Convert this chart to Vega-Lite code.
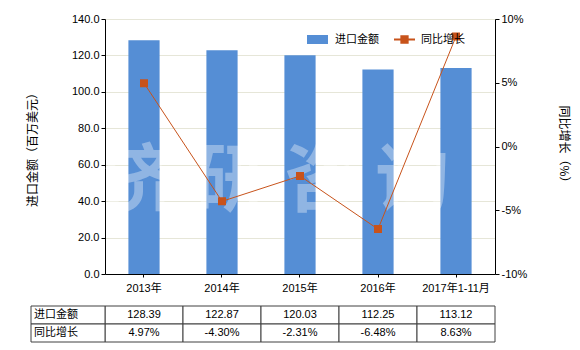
{
  "$schema": "https://vega.github.io/schema/vega-lite/v6.json",
  "padding": {"left": 26, "top": 13, "right": 5, "bottom": 5},
  "background": "white",
  "datasets": {
    "main": [
      {"年份": "2013年", "进口金额": 128.39, "同比增长": 0.0497},
      {"年份": "2014年", "进口金额": 122.87, "同比增长": -0.0430},
      {"年份": "2015年", "进口金额": 120.03, "同比增长": -0.0231},
      {"年份": "2016年", "进口金额": 112.25, "同比增长": -0.0648},
      {"年份": "2017年1-11月", "进口金额": 113.12, "同比增长": 0.0863}
    ],
    "rows": [{"指标": "进口金额"}, {"指标": "同比增长"}],
    "wm": [{"文字": "济 研 咨 询"}]
  },
  "spacing": 12,
  "vconcat": [
    {
      "width": 390,
      "height": 255,
      "data": {"name": "main"},
      "encoding": {
        "x": {
          "field": "年份", "type": "nominal", "sort": null,
          "scale": {"paddingInner": 0.6, "paddingOuter": 0.3},
          "axis": {"title": null, "labelAngle": 0, "tickSize": 3, "labelPadding": 5}
        }
      },
      "layer": [
        {
          "layer": [
            {
              "mark": {"type": "bar"},
              "encoding": {
                "y": {
                  "field": "进口金额", "type": "quantitative",
                  "scale": {"domain": [0, 140]},
                  "axis": {"values": [0, 20, 40, 60, 80, 100, 120, 140], "format": ".1f", "title": "进口金额（百万美元）", "grid": true, "gridColor": "#e6e6d8", "tickSize": 4, "labelPadding": 2, "titlePadding": 32}
                },
                "fill": {
                  "datum": "进口金额",
                  "scale": {"domain": ["进口金额"], "range": ["#558ed5"]},
                  "legend": {"orient": "none", "legendX": 201, "legendY": 9, "title": null, "symbolType": "M-1,-0.43H1V0.43H-1Z", "symbolSize": 441, "labelOffset": 6, "padding": 0}
                }
              }
            },
            {
              "data": {"name": "wm"},
              "mark": {"type": "text", "fontSize": 74, "fontWeight": "bold", "fill": "white", "opacity": 0.35, "dx": -24, "baseline": "middle", "align": "center", "font": "Noto Sans CJK SC"},
              "encoding": {
                "x": {
                  "datum": "2015年", "type": "nominal",
                  "axis": {"title": null, "labelAngle": 0, "tickSize": 3, "labelPadding": 5}
                },
                "y": {
                  "datum": 50, "type": "quantitative",
                  "axis": {"values": [0, 20, 40, 60, 80, 100, 120, 140], "format": ".1f", "title": "进口金额（百万美元）", "grid": true, "gridColor": "#e6e6d8", "tickSize": 4, "labelPadding": 2, "titlePadding": 32}
                },
                "text": {"field": "文字"}
              }
            }
          ]
        },
        {
          "mark": {"type": "line", "strokeWidth": 1, "point": {"shape": "square", "size": 36, "filled": true, "fill": "#c8531b"}},
          "encoding": {
            "y": {
              "field": "同比增长", "type": "quantitative",
              "scale": {"domain": [-0.1, 0.1]},
              "axis": {"orient": "right", "values": [-0.1, -0.05, 0, 0.05, 0.1], "format": ".0%", "title": "同比增长（%）", "grid": false, "tickSize": 4, "labelPadding": 2, "titlePadding": 30}
            },
            "stroke": {
              "datum": "同比增长",
              "scale": {"domain": ["同比增长"], "range": ["#c8531b"]},
              "legend": {"orient": "none", "legendX": 288, "legendY": 9, "title": null, "symbolType": "M-1,0H1M-0.3,-0.3H0.3V0.3H-0.3Z", "symbolSize": 441, "symbolStrokeWidth": 2, "symbolFillColor": "#c8531b", "labelOffset": 5, "padding": 0}
            }
          }
        }
      ],
      "resolve": {"scale": {"y": "independent"}}
    },
    {
      "width": 390,
      "height": 36,
      "data": {"name": "main"},
      "layer": [
        {
          "mark": {"type": "rect", "fill": "white", "stroke": "#404040", "strokeWidth": 1},
          "encoding": {
            "x": {"field": "年份", "type": "nominal", "sort": null, "scale": {"paddingInner": 0, "paddingOuter": 0}, "axis": null},
            "y": {"datum": "进口金额", "type": "nominal", "scale": {"domain": ["进口金额", "同比增长"], "paddingInner": 0, "paddingOuter": 0}, "axis": null}
          }
        },
        {
          "mark": {"type": "rect", "fill": "white", "stroke": "#404040", "strokeWidth": 1},
          "encoding": {
            "x": {"field": "年份", "type": "nominal", "sort": null, "scale": {"paddingInner": 0, "paddingOuter": 0}, "axis": null},
            "y": {"datum": "同比增长", "type": "nominal", "axis": null}
          }
        },
        {
          "mark": {"type": "text", "fontSize": 11, "baseline": "middle", "align": "center", "color": "#000"},
          "encoding": {
            "x": {"field": "年份", "type": "nominal", "sort": null, "scale": {"paddingInner": 0, "paddingOuter": 0}, "axis": null},
            "y": {"datum": "进口金额", "type": "nominal", "axis": null},
            "text": {"field": "进口金额", "type": "quantitative", "format": ".2f"}
          }
        },
        {
          "mark": {"type": "text", "fontSize": 11, "baseline": "middle", "align": "center", "color": "#000"},
          "encoding": {
            "x": {"field": "年份", "type": "nominal", "sort": null, "scale": {"paddingInner": 0, "paddingOuter": 0}, "axis": null},
            "y": {"datum": "同比增长", "type": "nominal", "axis": null},
            "text": {"field": "同比增长", "type": "quantitative", "format": ".2%"}
          }
        },
        {
          "data": {"name": "rows"},
          "mark": {"type": "rect", "fill": "white", "stroke": "#404040", "strokeWidth": 1},
          "encoding": {
            "x": {"datum": "指标", "type": "nominal", "scale": {"range": [-74, 0], "paddingInner": 0, "paddingOuter": 0}, "axis": null},
            "y": {"field": "指标", "type": "nominal", "axis": null}
          }
        },
        {
          "data": {"name": "rows"},
          "mark": {"type": "text", "fontSize": 11, "baseline": "middle", "align": "left", "dx": -34, "color": "#000"},
          "encoding": {
            "x": {"datum": "指标", "type": "nominal", "scale": {"range": [-74, 0], "paddingInner": 0, "paddingOuter": 0}, "axis": null},
            "y": {"field": "指标", "type": "nominal", "axis": null},
            "text": {"field": "指标"}
          }
        }
      ],
      "resolve": {"scale": {"x": "independent"}}
    }
  ],
  "config": {
    "font": "Liberation Sans, Noto Sans CJK SC",
    "view": {"stroke": null},
    "axis": {"labelFontSize": 11, "labelColor": "#000", "titleFontSize": 12, "titleFontWeight": "normal", "titleColor": "#000", "domainColor": "#000", "tickColor": "#000", "labelFont": "Liberation Sans, Noto Sans CJK SC", "titleFont": "Noto Sans CJK SC"},
    "legend": {"labelFontSize": 11, "labelColor": "#000", "labelFont": "Noto Sans CJK SC"},
    "text": {"font": "Liberation Sans, Noto Sans CJK SC"},
    "locale": {"number": {"decimal": ".", "thousands": ",", "grouping": [3], "currency": ["", ""], "minus": "-"}}
  }
}
